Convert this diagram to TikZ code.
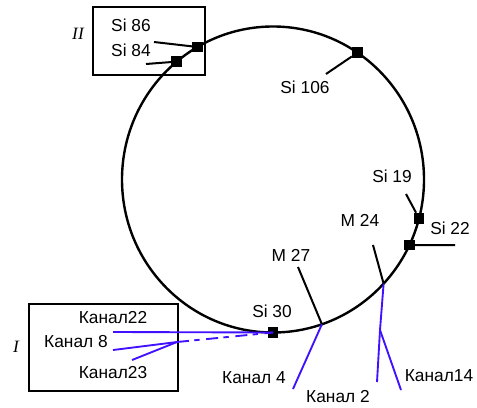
\documentclass[tikz,border=0pt]{standalone}
\usepackage{fontspec}
\setmainfont{Liberation Sans}
\newfontfamily\romfont{Liberation Serif}
\usetikzlibrary{calc}
\definecolor{kanal}{RGB}{64,16,255}

\begin{document}
\begin{tikzpicture}[x=0.75pt,y=-0.75pt,
  lbl/.style={font=\fontsize{13}{15}\selectfont,inner sep=0pt},
  grp/.style={font=\romfont\itshape\fontsize{13}{15}\selectfont,inner sep=0pt},
  sq/.style={fill=black,minimum size=8pt,inner sep=0pt},
  lead/.style={line width=1.5pt},
  ch/.style={line width=1.4pt,draw=kanal}]
  \useasboundingbox (0,0) rectangle (477,407);
  \coordinate (c) at (273,179.5);
  \draw[line width=1.8pt] (c) ellipse [x radius=151,y radius=153];
  \draw[line width=1.6pt] (93,7) rectangle (205,75);
  \draw[line width=1.6pt] (29,304) rectangle (178,391);
  \node[grp] (gII) at (78,34) {II};
  \node[grp] (gI) at (16,347) {I};

  \coordinate (m24) at ($(c)+(42.9:151 and 153)$);
  \coordinate (m27) at ($(c)+(71.1:151 and 153)$);
  \coordinate (j8) at (177,342);
  \coordinate (j2) at (380,330);

  \node[lbl] (l86) at (131,25) {Si 86};
  \node[lbl] (l84) at (131,50) {Si 84};
  \node[lbl] (l106) at (305,87) {Si 106};
  \node[lbl] (l19) at (392,176) {Si 19};
  \node[lbl] (l22) at (450,228) {Si 22};
  \node[lbl] (lm24) at (360,220) {M 24};
  \node[lbl] (lm27) at (291,255) {M 27};
  \node[lbl] (l30) at (272,311) {Si 30};
  \node[lbl] (k22) at (113,318) {Канал22};
  \node[lbl] (k8) at (76,342) {Канал 8};
  \node[lbl] (k23) at (113,373) {Канал23};
  \node[lbl] (k4) at (254,378) {Канал 4};
  \node[lbl] (k2) at (338,397) {Канал 2};
  \node[lbl] (k14) at (439,376) {Канал14};

  \coordinate (e86) at (154,42);
  \coordinate (e84) at (146,64);
  \coordinate (e106) at (326,74);
  \coordinate (e19) at (406,194);
  \coordinate (e22) at (455,245);
  \coordinate (em24) at (373,245);
  \coordinate (em27) at (298,267);
  \coordinate (e22k) at (113,332);
  \coordinate (e8k) at (113,350);
  \coordinate (e23k) at (132,360);
  \coordinate (e4k) at (293,389);
  \coordinate (e2k) at (377,382);
  \coordinate (e14k) at (401,390);

  \node[sq] (s86) at ($(c)+(240:151 and 153)$) {};
  \node[sq] (s84) at ($(c)+(230.4:151 and 153)$) {};
  \node[sq] (s106) at ($(c)+(304:151 and 153)$) {};
  \node[sq] (s19) at ($(c)+(14.7:151 and 153)$) {};
  \node[sq] (s22) at ($(c)+(25.4:151 and 153)$) {};
  \node[sq] (s30) at ($(c)+(90:151 and 153)$) {};

  \draw[lead] (e86) -- (s86);
  \draw[lead] (e84) -- (s84);
  \draw[lead] (e106) -- (s106);
  \draw[lead] (e19) -- (s19);
  \draw[lead] (s22) -- (e22);
  \draw[lead] (em24) -- (m24);
  \draw[lead] (em27) -- (m27);

  \draw[ch] (e22k) -- (s30.center);
  \draw[ch] (e8k) -- (j8);
  \draw[ch] (e23k) -- (j8);
  \draw[ch,dash pattern=on 9pt off 4pt on 4pt off 5pt] (j8) -- (s30.center);
  \draw[ch] (m27) -- (e4k);
  \draw[ch] (m24) -- (j2);
  \draw[ch] (j2) -- (e2k);
  \draw[ch] (j2) -- (e14k);
\end{tikzpicture}
\end{document}
